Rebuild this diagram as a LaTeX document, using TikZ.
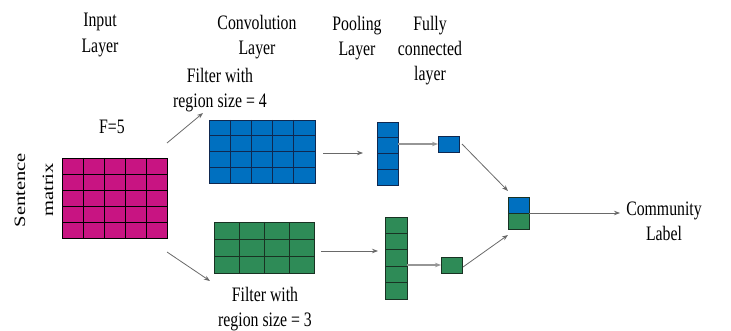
\documentclass[tikz,border=0pt]{standalone}
\usepackage{fontspec}
\setmainfont{Liberation Serif}
\usetikzlibrary{arrows.meta}
\definecolor{mag}{RGB}{200,20,130}
\definecolor{blu}{RGB}{0,112,192}
\definecolor{grn}{RGB}{46,139,87}
\definecolor{bluline}{RGB}{15,40,80}
\definecolor{grnline}{RGB}{25,50,35}
\definecolor{arr}{RGB}{105,105,105}
\newcommand\gridbox[9]{%
  \node[draw=#9, fill=#8, line width=0.8pt, inner sep=0pt, outer sep=0pt,
        minimum width={(#4-#2)*1pt}, minimum height={(#5-#3)*1pt},
        anchor=north west] (#1) at (#2,#3) {};
  \pgfmathsetmacro\gdx{(#4-#2)/#6}%
  \pgfmathsetmacro\gdy{(#5-#3)/#7}%
  \foreach \k in {1,...,#6}{\ifnum\k<#6 \draw[#9, line width=0.8pt] ({#2+\k*\gdx},#3) -- ({#2+\k*\gdx},#5);\fi}%
  \foreach \k in {1,...,#7}{\ifnum\k<#7 \draw[#9, line width=0.8pt] (#2,{#3+\k*\gdy}) -- (#4,{#3+\k*\gdy});\fi}%
}
\begin{document}
\begin{tikzpicture}[x=1pt,y=-1pt,
  lbl/.style={font=\fontsize{15.8}{19.3}\selectfont, align=center, inner sep=0pt, transform shape, yscale=1.3},
  rlbl/.style={font=\fontsize{15.8}{28}\selectfont, align=center, inner sep=0pt, transform shape, rotate=90, xscale=1.3},
  conn/.style={draw=arr, line width=0.8pt, -{Stealth[length=6pt,width=4.5pt]}}]
\useasboundingbox (0,0) rectangle (731,331);

% grids
\gridbox{sm}{62}{158}{167}{238}{5}{5}{mag}{black}
\gridbox{cb}{209}{120}{315}{183}{5}{4}{blu}{bluline}
\gridbox{cg}{214}{222}{314}{273}{4}{3}{grn}{grnline}
\gridbox{pb}{377}{122}{398}{185}{1}{4}{blu}{bluline}
\gridbox{pg}{385}{217}{407}{299}{1}{5}{grn}{grnline}
\gridbox{sb}{438}{136}{459}{152}{1}{1}{blu}{bluline}
\gridbox{sg}{441}{257}{462}{273}{1}{1}{grn}{grnline}
\node[draw=bluline, fill=blu, line width=0.8pt, inner sep=0pt, outer sep=0pt,
      minimum width=21pt, minimum height=32pt, anchor=north west] (fc) at (508,197) {};
\fill[grn] (508,213) rectangle (529,229);
\draw[grnline, line width=0.8pt] (508,197) rectangle (529,229);
\draw[grnline, line width=0.8pt] (508,213) -- (529,213);

% arrow end points
\coordinate (a1s) at (167,143); \coordinate (a1e) at (203,113);
\coordinate (a2s) at (167,252); \coordinate (a2e) at (210,281);
\coordinate (a3s) at (323,153); \coordinate (a3e) at (363,153);
\coordinate (a4s) at (321,251); \coordinate (a4e) at (378,251);
\coordinate (a7s) at (462,144); \coordinate (a7e) at (508,191);
\coordinate (a8s) at (463,267); \coordinate (a8e) at (508,235);
\coordinate (a9e) at (620,213);

\draw[conn] (a1s) -- (a1e);
\draw[conn] (a2s) -- (a2e);
\draw[conn] (a3s) -- (a3e);
\draw[conn] (a4s) -- (a4e);
\draw[conn, draw={rgb,255:red,150;green,150;blue,150}, line width=1.1pt] (pb.east |- sb.west) -- (sb.west);
\draw[conn, draw={rgb,255:red,150;green,150;blue,150}, line width=1.1pt] (pg.east |- sg.west) -- (sg.west);
\draw[conn] (a7s) -- (a7e);
\draw[conn] (a8s) -- (a8e);
\draw[conn] (fc.east) -- (a9e);

% labels
\node[lbl] (tin) at (100,35) {Input\\Layer};
\node[lbl] (tconv) at (257,37) {Convolution\\Layer};
\node[lbl] (tpool) at (357,38) {Pooling\\Layer};
\node[lbl] (tfc) at (430,51) {Fully\\connected\\layer};
\node[lbl] (tf4) at (220,90) {Filter with\\region size = 4};
\node[lbl] (tf3) at (265,309) {Filter with\\region size = 3};
\node[lbl] (tF) at (112,127) {F=5};
\node[rlbl] (tsm) at (34,190) {Sentence\\matrix};
\node[lbl] (tcl) at (664,221) {Community\\Label};
\end{tikzpicture}
\end{document}
